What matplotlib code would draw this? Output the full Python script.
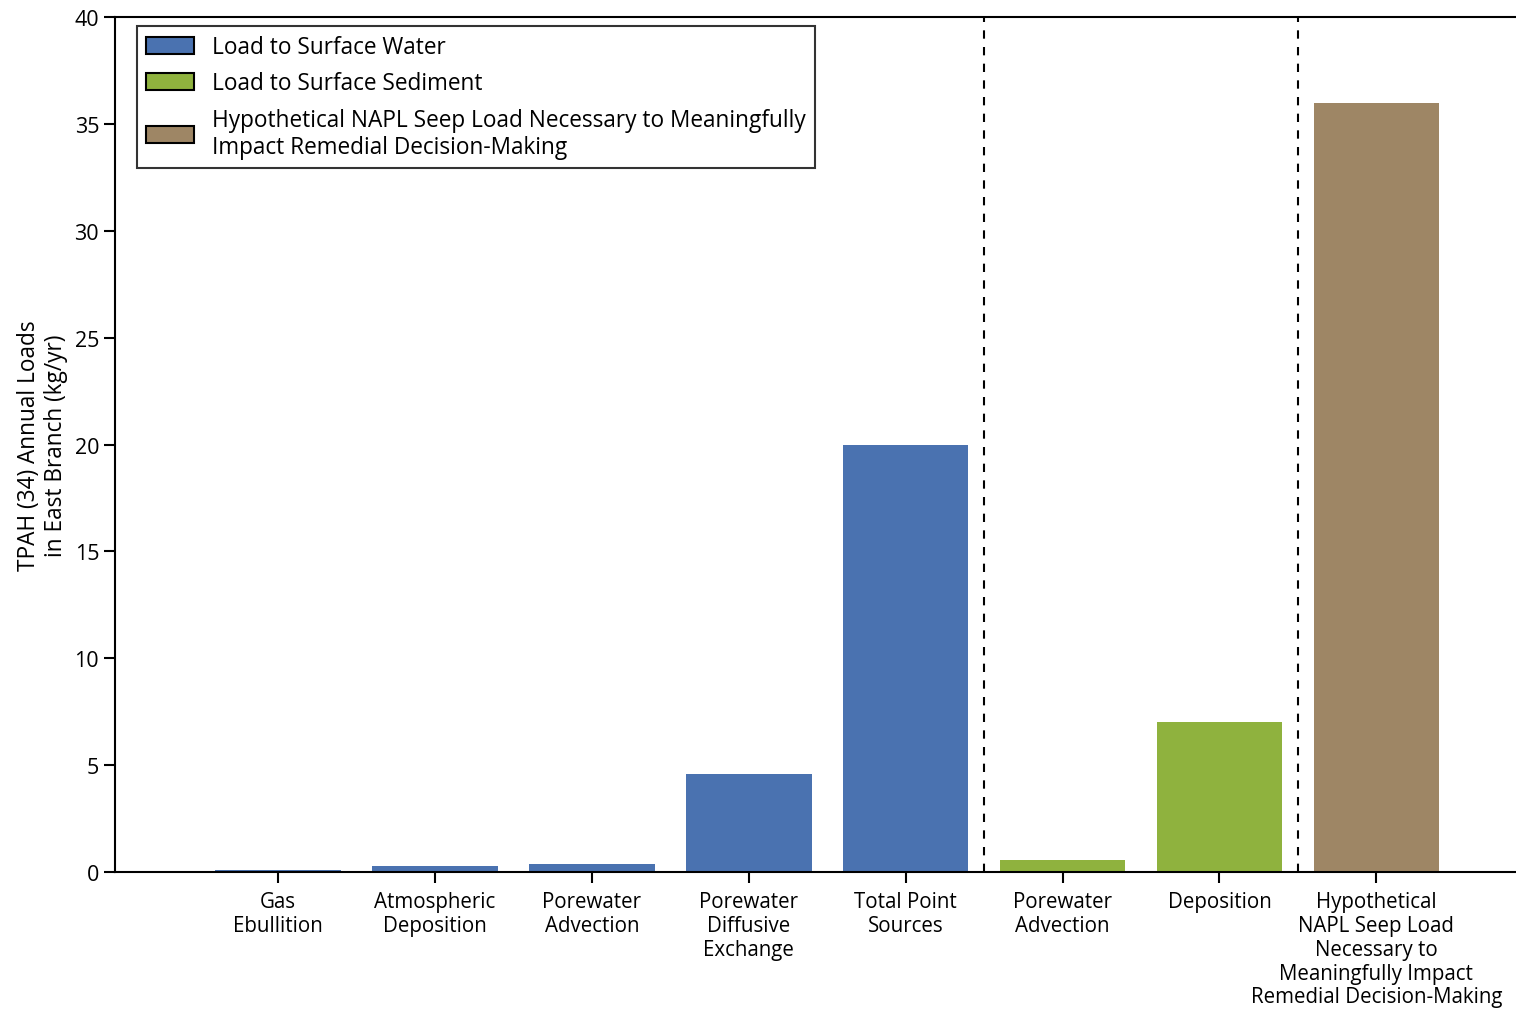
import numpy as np
import matplotlib
matplotlib.use("Agg")
import matplotlib.pyplot as plt
from matplotlib.patches import Patch

plt.rcParams['font.family'] = ['Open Sans', 'DejaVu Sans']

# categories and loads (kg/yr)
categories = ["Gas\nEbullition", "Atmospheric\nDeposition", "Porewater\nAdvection",
              "Porewater\nDiffusive\nExchange", "Total Point\nSources",
              "Porewater\nAdvection", "Deposition",
              "Hypothetical\nNAPL Seep Load\nNecessary to\nMeaningfully Impact\nRemedial Decision-Making"]
loads = [0.08, 0.3, 0.4, 4.6, 20.0, 0.58, 7.0, 36.0]
groups = ["water", "water", "water", "water", "water", "sediment", "sediment", "napl"]

colors = {"water": "#4a72b0", "sediment": "#8fb23e", "napl": "#9e8665"}
legend_labels = ["Load to Surface Water", "Load to Surface Sediment",
                 "Hypothetical NAPL Seep Load Necessary to Meaningfully\nImpact Remedial Decision-Making"]
dividers = [4.5, 6.5]

fig = plt.figure(figsize=(15.16, 10.12), dpi=100)
ax = fig.add_axes([0.0759, 0.1373, 0.9241, 0.8449])

x = np.arange(len(categories))
ax.bar(x, loads, width=0.8, color=[colors[g] for g in groups])

for d in dividers:
    ax.axvline(d, color="black", linestyle=(0, (4, 4)), linewidth=1.5)

ax.set_xlim(-1.04, 7.89)
ax.set_ylim(0, 40)
ax.set_yticks(np.arange(0, 41, 5))
ax.set_xticks(x)
ax.set_xticklabels(categories, fontsize=14.8, linespacing=1.17)
ax.tick_params(axis="y", labelsize=15.5, length=8, width=1.5, direction="out")
ax.tick_params(axis="x", length=8, width=1.5, direction="out", pad=6)

for s in ["left", "bottom", "top"]:
    ax.spines[s].set_linewidth(1.5)
ax.spines["right"].set_visible(False)

ax.set_ylabel("TPAH (34) Annual Loads\nin East Branch (kg/yr)", fontsize=16.3,
              labelpad=5, linespacing=1.12)

handles = [Patch(facecolor=colors[k], edgecolor="black", linewidth=1.5)
           for k in ["water", "sediment", "napl"]]
leg = ax.legend(handles, legend_labels, loc="upper left", fontsize=16.3,
                frameon=True, fancybox=False, edgecolor="black",
                bbox_to_anchor=(0.0157, 0.9895), handlelength=2.1, handleheight=0.8,
                borderpad=0.4, labelspacing=0.55, handletextpad=0.8,
                borderaxespad=0)
leg.get_frame().set_linewidth(1.5)
for t in leg.get_texts():
    t.set_linespacing(1.15)

fig.savefig("out.png", dpi=100)
